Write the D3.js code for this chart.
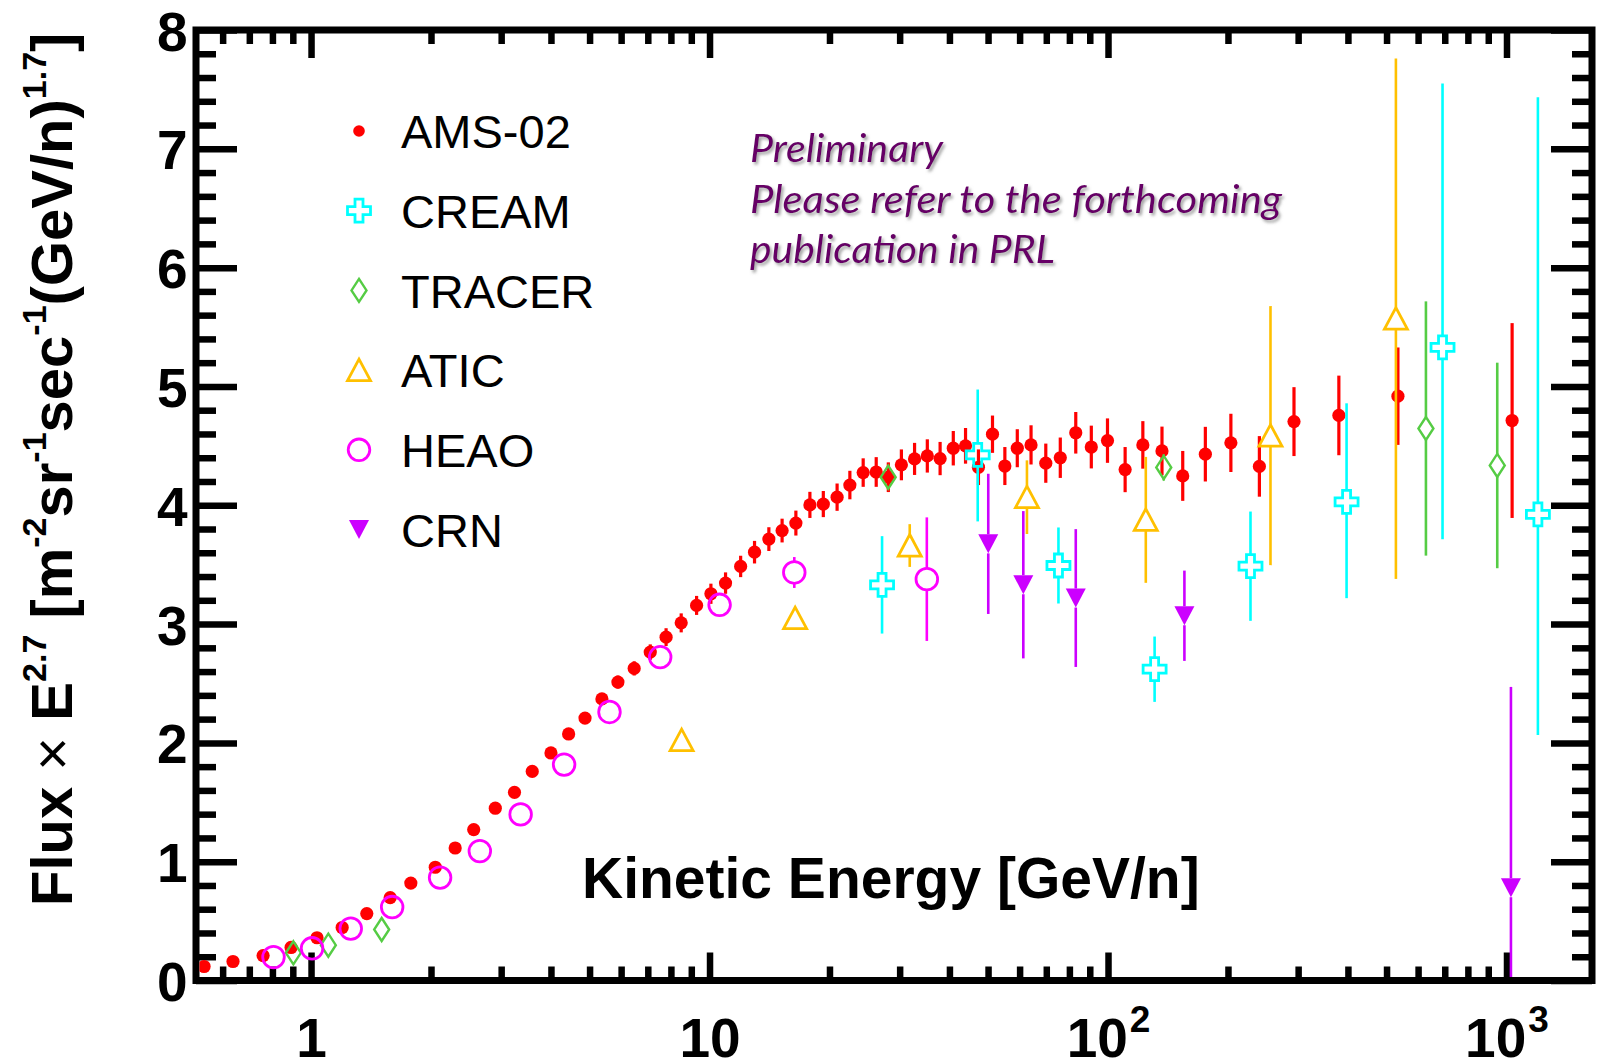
<!DOCTYPE html>
<html>
<head>
<meta charset="utf-8">
<script src="https://cdn.jsdelivr.net/npm/d3@7"></script>
<style>
  html, body { margin: 0; padding: 0; background: #fff; }
  svg { display: block; }
</style>
</head>
<body>
<div id="chart"></div>
<script>
// AMS-02
const amsE = [0.539, 0.637, 0.758, 0.891, 1.035, 1.197, 1.38, 1.58, 1.78, 2.05, 2.30, 2.56, 2.90, 3.24, 3.59, 4.0, 4.43, 4.87, 5.37, 5.89, 6.47, 7.1, 7.78, 8.49, 9.28, 10.08, 10.97, 11.97, 12.97, 14.09, 15.21, 16.47, 17.86, 19.3, 20.9, 22.5, 24.3, 26.2, 28.1, 30.3, 32.7, 35.2, 37.9, 40.9, 43.9, 47.3, 51.3, 55.1, 59.2, 64.1, 69.8, 75.9, 83, 90.8, 99.7, 110.4, 122.3, 136.6, 154, 175.5, 203.4, 239.8, 292.9, 379.6, 534, 1033]
const amsV = [0.118, 0.16, 0.21, 0.278, 0.36, 0.446, 0.563, 0.698, 0.82, 0.953, 1.115, 1.27, 1.45, 1.584, 1.76, 1.915, 2.075, 2.209, 2.37, 2.512, 2.627, 2.764, 2.89, 3.01, 3.157, 3.255, 3.345, 3.485, 3.605, 3.715, 3.787, 3.85, 4.003, 4.01, 4.068, 4.17, 4.275, 4.28, 4.236, 4.34, 4.39, 4.415, 4.393, 4.48, 4.50, 4.32, 4.598, 4.33, 4.48, 4.508, 4.354, 4.40, 4.61, 4.49, 4.544, 4.30, 4.508, 4.457, 4.247, 4.43, 4.525, 4.327, 4.704, 4.756, 4.918, 4.713]
const amsErr = [0.01, 0.01, 0.01, 0.015, 0.015, 0.015, 0.02, 0.02, 0.02, 0.025, 0.025, 0.03, 0.03, 0.035, 0.035, 0.04, 0.04, 0.045, 0.05, 0.055, 0.06, 0.065, 0.075, 0.08, 0.08, 0.085, 0.09, 0.09, 0.095, 0.1, 0.1, 0.105, 0.11, 0.11, 0.115, 0.12, 0.12, 0.125, 0.125, 0.13, 0.135, 0.14, 0.14, 0.145, 0.15, 0.15, 0.157, 0.16, 0.16, 0.165, 0.165, 0.17, 0.175, 0.18, 0.187, 0.19, 0.2, 0.205, 0.21, 0.23, 0.245, 0.255, 0.29, 0.335, 0.41, 0.82]

// CREAM
const creamE = [27.1, 47.1, 75.1, 130.9, 227.8, 396.9, 691, 1199]
const creamV = [3.33, 4.424, 3.493, 2.62, 3.487, 4.028, 5.329, 3.924]
const creamDn = [0.41, 0.56, 0.32, 0.275, 0.46, 0.81, 1.615, 1.858]
const creamUp = [0.41, 0.55, 0.32, 0.275, 0.46, 0.83, 2.22, 3.51]

// TRACER
const tracerE = [0.903, 1.105, 1.504, 28.08, 138, 627.8, 948]
const tracerV = [0.233, 0.297, 0.429, 4.236, 4.318, 4.646, 4.335]
const tracerErr = [0.02, 0.02, 0.03, 0.06, 0.11, 1.07, 0.865]

// ATIC
const aticE = [8.51, 16.4, 31.8, 62.6, 124.4, 255.7, 527.8]
const aticV = [2.023, 3.05, 3.661, 4.068, 3.877, 4.586, 5.57]
const aticErr = [0.03, 0.05, 0.18, 0.31, 0.53, 1.09, 2.19]

// HEAO
const heaoE = [0.805, 1.006, 1.258, 1.598, 2.108, 2.652, 3.357, 4.316, 5.61, 7.52, 10.6, 16.32, 35.1]
const heaoV = [0.197, 0.271, 0.437, 0.618, 0.866, 1.089, 1.398, 1.817, 2.26, 2.722, 3.162, 3.434, 3.378]
const heaoErr = [0.02, 0.02, 0.02, 0.03, 0.03, 0.04, 0.04, 0.05, 0.06, 0.07, 0.08, 0.13, 0.52]

// CRN
const crnE = [50.06, 61.3, 83, 155.5, 1026]
const crnV = [3.675, 3.331, 3.219, 3.07, 0.781]
const crnErr = [0.59, 0.62, 0.58, 0.38, 1.69]

// axes
const xDomain = [0.5144, 1639]
const yDomain = [0, 8]
const xMajorTicks = [1, 10, 100, 1000]
const xTickBase = ["1", "10", "10", "10"]
const xTickExp = ["", "", "2", "3"]
const yMajorTicks = [0, 1, 2, 3, 4, 5, 6, 7, 8]

const xTitle = "Kinetic Energy [GeV/n]"
const noteLines = ["Preliminary", "Please refer to the forthcoming", "publication in PRL"]


let width = 1597,
    height = 1062;

let frame = {left: 196, right: 1592, top: 30, bottom: 980.5}

let svg = d3.select('#chart')
    .append('svg')
    .attr("width", width)
    .attr("height", height)
    .style("background", "#fff")

let x = d3.scaleLog().domain(xDomain).range([frame.left, frame.right])
let y = d3.scaleLinear().domain(yDomain).range([frame.bottom, frame.top])

const boldFont = "'Liberation Sans', Arial, Helvetica, sans-serif"

// minor ticks: 2..9 in each decade, 0.2 steps on y
let xMinor = []
for (let p = -1; p <= 3; p++) {
    for (let k = 2; k <= 9; k++) {
        let v = k * Math.pow(10, p)
        if (v > xDomain[0] && v < xDomain[1]) xMinor.push(+v.toPrecision(3))
    }
}
let yMinor = d3.range(0, 8.001, 0.2).filter(function (v) { return Math.abs(v - Math.round(v)) > 0.01 })

function tickAxis(axis, tx, ty) {
    let g = svg.append("g")
        .attr("transform", "translate(" + tx + "," + ty + ")")
        .call(axis)
    g.select(".domain").remove()
    g.selectAll(".tick line").attr("stroke", "#000").attr("stroke-width", 6.5)
    return g
}

// bottom / top
tickAxis(d3.axisBottom(x).tickValues(xMinor).tickSize(-14).tickFormat(""), 0, frame.bottom)
tickAxis(d3.axisTop(x).tickValues(xMinor).tickSize(-14).tickFormat(""), 0, frame.top)
tickAxis(d3.axisTop(x).tickValues(xMajorTicks).tickSize(-28).tickFormat(""), 0, frame.top)
let xAxisG = tickAxis(d3.axisBottom(x).tickValues(xMajorTicks).tickSize(-28).tickPadding(0), 0, frame.bottom)

xAxisG.selectAll(".tick text").each(function (d, i) {
    let t = d3.select(this)
    t.text(null)
        .attr("y", 76.5)
        .attr("dy", null)
        .attr("fill", "#000")
        .attr("font-family", boldFont)
        .attr("font-weight", "bold")
        .attr("font-size", 55)
        .attr("text-anchor", "middle")
    t.append("tspan").text(xTickBase[i])
    if (xTickExp[i]) {
        t.append("tspan").attr("dx", 2).attr("dy", -25).attr("font-size", 37).text(xTickExp[i])
    }
})

// left / right
tickAxis(d3.axisLeft(y).tickValues(yMinor).tickSize(-20).tickFormat(""), frame.left, 0)
tickAxis(d3.axisRight(y).tickValues(yMinor).tickSize(-20).tickFormat(""), frame.right, 0)
tickAxis(d3.axisRight(y).tickValues(yMajorTicks).tickSize(-41).tickFormat(""), frame.right, 0)
let yAxisG = tickAxis(d3.axisLeft(y).tickValues(yMajorTicks).tickSize(-41).tickPadding(8.5).tickFormat(d3.format("d")), frame.left, 0)

yAxisG.selectAll(".tick text")
    .attr("dy", null)
    .attr("y", 20)
    .attr("fill", "#000")
    .attr("font-family", boldFont)
    .attr("font-weight", "bold")
    .attr("font-size", 55)

// frame
svg.append("rect")
    .attr("x", frame.left)
    .attr("y", frame.top)
    .attr("width", frame.right - frame.left)
    .attr("height", frame.bottom - frame.top)
    .attr("fill", "none")
    .attr("stroke", "#000")
    .attr("stroke-width", 7)

// axis titles
svg.append("text")
    .attr("x", 582)
    .attr("y", 898)
    .attr("font-family", boldFont)
    .attr("font-weight", "bold")
    .attr("font-size", 57)
    .attr("fill", "#000")
    .text(xTitle)

let yTitle = svg.append("text")
    .attr("transform", "translate(72,906) rotate(-90)")
    .attr("font-family", boldFont)
    .attr("font-weight", "bold")
    .attr("font-size", 58)
    .attr("fill", "#000")

let supSize = 34, supRaise = 26
let yParts = [
    ["Flux ", 0], ["\u00d7", 0, "normal"], [" E", 0], ["2.7", 1], [" [m", 0], ["-2", 1], ["sr", 0], ["-1", 1],
    ["sec", 0], ["-1", 1], ["(GeV/n)", 0], ["1.7", 1], ["]", 0]
]
let lastSup = 0
yParts.forEach(function (p) {
    let ts = yTitle.append("tspan").text(p[0])
    if (p[1] !== lastSup) ts.attr("dy", p[1] ? -supRaise : supRaise)
    if (p[1]) ts.attr("font-size", supSize)
    if (p[2]) ts.attr("font-weight", p[2])
    lastSup = p[1]
})

// annotation
let defs = svg.append("defs")
let shadow = defs.append("filter").attr("id", "shadow").attr("x", "-5%").attr("y", "-20%").attr("width", "110%").attr("height", "150%")
shadow.append("feDropShadow")
    .attr("dx", 2).attr("dy", 2.5).attr("stdDeviation", 1.6)
    .attr("flood-color", "#7a7a7a").attr("flood-opacity", 0.7)

defs.append("clipPath").attr("id", "plotClip")
    .append("rect")
    .attr("x", frame.left + 3.5).attr("y", frame.top + 3.5)
    .attr("width", frame.right - frame.left - 7).attr("height", frame.bottom - frame.top - 7)

let noteLayout = [{y: 162, w: 193}, {y: 212.5, w: 532}, {y: 263, w: 305}]
svg.append("g")
    .attr("filter", "url(#shadow)")
    .selectAll("text")
    .data(noteLines)
    .enter().append("text")
    .attr("x", 750)
    .attr("y", function (d, i) { return noteLayout[i].y })
    .attr("textLength", function (d, i) { return noteLayout[i].w })
    .attr("lengthAdjust", "spacingAndGlyphs")
    .attr("font-family", "Lato, 'Open Sans', 'DejaVu Sans', sans-serif")
    .attr("font-style", "italic")
    .attr("font-size", 38)
    .attr("fill", "#660066")
    .text(function (d) { return d })

// markers
function markerPath(type) {
    if (type === "cross") {
        let a = 4, L = 11.5
        return "M" + (-a) + "," + (-L) + "H" + a + "V" + (-a) + "H" + L + "V" + a + "H" + a + "V" + L +
            "H" + (-a) + "V" + a + "H" + (-L) + "V" + (-a) + "H" + (-a) + "Z"
    }
    if (type === "diamond") return "M0,-11.5L7.5,0L0,11.5L-7.5,0Z"
    if (type === "triUp") return "M0,-11L11.5,10.5L-11.5,10.5Z"
    if (type === "triDown") return "M-10,-9.5L10,-9.5L0,9.5Z"
    return ""
}

let series = [
    {name: "AMS-02", e: amsE, v: amsV, dn: amsErr, up: amsErr, type: "dot", color: "#ff0000", gap: 0, bw: 3.2},
    {name: "CREAM", e: creamE, v: creamV, dn: creamDn, up: creamUp, type: "cross", color: "#00ffff", gap: 11.5, bw: 2.6},
    {name: "TRACER", e: tracerE, v: tracerV, dn: tracerErr, up: tracerErr, type: "diamond", color: "#55cc44", gap: 11.5, bw: 2.6},
    {name: "ATIC", e: aticE, v: aticV, dn: aticErr, up: aticErr, type: "triUp", color: "#ffc000", gap: 11, bw: 2.6},
    {name: "HEAO", e: heaoE, v: heaoV, dn: heaoErr, up: heaoErr, type: "circle", color: "#ff00ff", gap: 11, bw: 2.6},
    {name: "CRN", e: crnE, v: crnV, dn: crnErr, up: crnErr, type: "triDown", color: "#cc00ff", gap: 9.5, bw: 2.6}
]

function drawMarker(sel, s, r) {
    if (s.type === "dot") {
        sel.append("circle").attr("r", r || 6.6).attr("fill", s.color)
    } else if (s.type === "circle") {
        sel.append("circle").attr("r", 10.8).attr("fill", "none").attr("stroke", s.color).attr("stroke-width", 2.8)
    } else if (s.type === "triDown") {
        sel.append("path").attr("d", markerPath(s.type)).attr("fill", s.color)
    } else {
        sel.append("path").attr("d", markerPath(s.type)).attr("fill", "none")
            .attr("stroke", s.color).attr("stroke-width", s.type === "diamond" ? 2.4 : 2.8)
            .attr("stroke-linejoin", "miter")
    }
}

let plot = svg.append("g").attr("clip-path", "url(#plotClip)")

series.forEach(function (s) {
    let pts = s.e.map(function (e, i) {
        return {e: e, v: s.v[i], dn: s.dn[i], up: s.up[i]}
    })
    let g = plot.append("g").attr("class", "series")

    // error bars, split around open markers
    pts.forEach(function (d) {
        let cy = y(d.v), top = y(d.v + d.up), bot = y(d.v - d.dn), cx = x(d.e)
        if (top < cy - s.gap) {
            g.append("line").attr("x1", cx).attr("x2", cx).attr("y1", top).attr("y2", cy - s.gap)
                .attr("stroke", s.color).attr("stroke-width", s.bw)
        }
        if (bot > cy + s.gap) {
            g.append("line").attr("x1", cx).attr("x2", cx).attr("y1", cy + s.gap).attr("y2", bot)
                .attr("stroke", s.color).attr("stroke-width", s.bw)
        }
    })

    g.selectAll(".pt")
        .data(pts)
        .enter().append("g")
        .attr("class", "pt")
        .attr("transform", function (d) { return "translate(" + x(d.e) + "," + y(d.v) + ")" })
        .each(function () { drawMarker(d3.select(this), s) })
})

// legend
let legend = svg.append("g").attr("transform", "translate(359,131)")
let items = legend.selectAll(".item")
    .data(series)
    .enter().append("g")
    .attr("class", "item")
    .attr("transform", function (d, i) { return "translate(0," + (i * 79.7) + ")" })

items.each(function (s) { drawMarker(d3.select(this), s, 5.8) })

items.append("text")
    .attr("x", 42)
    .attr("y", 17.3)
    .attr("font-family", boldFont)
    .attr("font-size", 47)
    .attr("fill", "#000")
    .text(function (d) { return d.name })
</script>
</body>
</html>
